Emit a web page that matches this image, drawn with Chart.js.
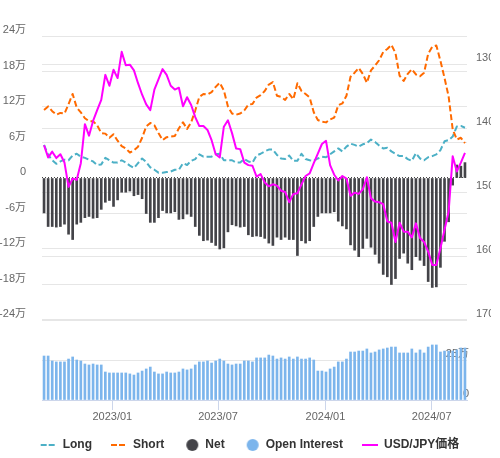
<!DOCTYPE html>
<html>
<head>
<meta charset="utf-8">
<script src="https://cdn.jsdelivr.net/npm/chart.js@4.4.1/dist/chart.umd.min.js"></script>
<style>
  html, body { margin: 0; padding: 0; background: #fff; overflow: hidden; }
  #wrap { position: relative; width: 500px; height: 458px; }
  #cot { display: block; }
</style>
</head>
<body>
<div id="wrap"><canvas id="cot"></canvas></div>
<script>
// ── Data: weekly report dates (Tuesday) ──
const weeks = [
    '2022-09-06','2022-09-13','2022-09-20','2022-09-27','2022-10-04','2022-10-11','2022-10-18','2022-10-25',
    '2022-11-01','2022-11-08','2022-11-15','2022-11-22','2022-11-29','2022-12-06','2022-12-13','2022-12-20','2022-12-27',
    '2023-01-03','2023-01-10','2023-01-17','2023-01-24','2023-01-31','2023-02-07','2023-02-14','2023-02-21','2023-02-28',
    '2023-03-07','2023-03-14','2023-03-21','2023-03-28','2023-04-04','2023-04-11','2023-04-18','2023-04-25',
    '2023-05-02','2023-05-09','2023-05-16','2023-05-23','2023-05-30','2023-06-06','2023-06-13','2023-06-20','2023-06-27',
    '2023-07-04','2023-07-11','2023-07-18','2023-07-25','2023-08-01','2023-08-08','2023-08-15','2023-08-22','2023-08-29',
    '2023-09-05','2023-09-12','2023-09-19','2023-09-26','2023-10-03','2023-10-10','2023-10-17','2023-10-24','2023-10-31',
    '2023-11-07','2023-11-14','2023-11-21','2023-11-28','2023-12-05','2023-12-12','2023-12-19','2023-12-26',
    '2024-01-02','2024-01-09','2024-01-16','2024-01-23','2024-01-30','2024-02-06','2024-02-13','2024-02-20','2024-02-27',
    '2024-03-05','2024-03-12','2024-03-19','2024-03-26','2024-04-02','2024-04-09','2024-04-16','2024-04-23','2024-04-30',
    '2024-05-07','2024-05-14','2024-05-21','2024-05-28','2024-06-04','2024-06-11','2024-06-18','2024-06-25',
    '2024-07-02','2024-07-09','2024-07-16','2024-07-23','2024-07-30','2024-08-06','2024-08-13','2024-08-20','2024-08-27'
];

// positions in 万枚
const longPos = [
    5.6,3.9,3.0,2.4,2.8,3.1,3.0,3.8,4.1,3.6, 3.4,3.1,2.8,2.2,2.3,3.4,3.0,2.6,2.6,3.0,
    2.6,2.1,1.7,2.5,3.3,2.7,1.8,1.4,0.9,0.9, 1.0,1.1,1.4,1.4,2.5,2.2,2.9,3.2,4.0,3.6,
    3.6,3.6,4.0,4.1,3.0,3.0,3.0,2.6,2.6,3.2, 2.8,2.6,3.8,4.1,4.5,4.8,4.8,3.9,3.3,3.2,
    3.8,2.9,2.9,4.1,3.2,3.0,2.9,3.3,3.6,3.5, 4.0,4.5,5.0,4.5,5.3,5.8,5.6,5.3,5.7,5.9,
    6.5,6.1,5.5,5.0,5.1,4.5,4.1,3.7,3.7,3.2, 2.9,4.2,3.3,3.0,3.5,3.7,4.0,4.7,6.2,6.4,
    7.0,8.7,8.8,8.5
];
const shortPos = [
    11.5,12.1,11.3,10.7,11.0,10.9,12.5,14.2,11.9,11.1, 10.1,9.6,9.6,8.9,7.6,7.5,6.8,7.4,6.3,5.4,
    5.0,4.3,4.7,5.3,6.8,8.7,9.3,8.9,7.6,6.4, 6.9,7.0,7.1,8.4,9.4,8.3,9.4,11.4,13.7,14.2,
    14.1,14.5,15.4,16.1,14.8,12.1,10.9,10.7,10.9,11.4, 12.4,12.5,13.6,14.0,14.7,15.8,16.2,13.9,13.7,13.2,
    14.2,13.3,16.0,14.7,14.2,13.6,11.1,9.8,9.5,9.4, 9.9,10.2,12.3,12.6,13.9,17.1,17.8,18.6,17.6,16.1,
    18.2,19.0,19.9,21.3,21.8,22.5,21.1,17.3,16.4,17.6, 18.4,17.5,17.2,17.8,21.0,22.2,22.4,19.8,16.9,13.8,
    8.2,6.5,6.8,5.9
];
const netPos = [
    -5.9,-8.2,-8.2,-8.3,-8.2,-7.8,-9.5,-10.4,-7.8,-7.5, -6.7,-6.5,-6.8,-6.7,-5.3,-4.1,-3.8,-4.8,-3.7,-2.4,
    -2.4,-2.2,-3.0,-2.8,-3.5,-6.0,-7.5,-7.5,-6.7,-5.5, -5.9,-5.9,-5.7,-7.0,-6.9,-6.1,-6.5,-8.2,-9.7,-10.6,
    -10.5,-10.9,-11.4,-12.0,-11.8,-9.1,-7.9,-8.1,-8.3,-8.2, -9.6,-9.9,-9.8,-9.9,-10.2,-11.0,-11.4,-10.0,-10.4,-10.0,
    -10.4,-10.4,-13.1,-10.6,-11.0,-10.6,-8.2,-6.5,-5.9,-5.9, -5.9,-5.7,-7.3,-8.1,-8.6,-11.3,-12.2,-13.3,-11.9,-10.2,
    -11.7,-12.9,-14.4,-16.3,-16.7,-18.0,-17.0,-13.6,-12.7,-14.4, -15.5,-13.3,-13.9,-14.8,-17.5,-18.5,-18.4,-15.1,-10.7,-7.4,
    -1.2,2.2,2.0,2.6
];
const openInterest = [
    27.5,27.5,24.4,23.8,23.8,23.8,25.6,26.9,25.0,24.4, 22.5,21.9,22.5,21.9,21.9,17.5,16.9,16.9,16.9,16.9,
    16.9,16.3,15.6,16.9,18.1,19.4,20.6,17.5,16.3,16.3, 17.5,16.9,16.9,17.5,19.4,18.8,19.4,21.9,23.8,23.8,
    24.4,23.1,24.4,25.6,24.4,22.5,21.9,22.5,22.5,24.4, 24.4,23.8,26.3,26.3,26.3,28.1,27.5,25.6,26.3,25.6,
    26.9,25.6,26.9,25.6,25.6,26.3,25.0,18.1,18.1,17.5, 19.4,20.6,23.8,23.8,25.6,30.0,30.0,30.6,30.6,31.9,
    29.4,30.0,31.3,31.9,32.5,33.1,33.1,29.4,29.4,29.4, 31.9,29.4,31.3,29.4,33.1,34.4,34.4,30.0,30.6,30.6,
    30.6,31.3,32.5,32.5
];
const usdjpy = [
    142.7,144.6,143.7,144.7,144.1,145.4,149.2,147.9,148.1,145.5, 139.4,141.2,138.9,137.2,135.6,131.7,133.4,130.9,132.2,128.1,
    130.2,130.1,131.0,133.0,134.8,136.3,137.2,134.0,132.4,130.8, 131.7,133.4,134.0,133.7,136.6,135.2,136.4,138.3,139.7,139.7,
    140.3,141.9,144.1,144.6,139.8,138.8,140.8,143.2,143.3,145.4, 145.8,145.9,147.6,147.2,148.5,149.1,148.8,149.0,149.8,150.0,
    151.6,150.3,150.2,148.8,147.5,147.1,145.5,144.0,142.5,142.0, 145.8,147.3,148.2,147.5,147.9,150.6,150.1,150.3,149.6,147.7,
    151.0,151.5,151.6,151.9,154.6,154.8,157.8,154.8,156.2,156.2, 157.1,154.9,157.2,157.8,159.3,161.4,161.4,158.8,155.9,153.1,
    144.4,146.8,145.4,143.9
];

// ── Axis ticks ──
const tickDates  = ['2023-01-01', '2023-07-01', '2024-01-01', '2024-07-01'];
const tickLabels = ['2023/01', '2023/07', '2024/01', '2024/07'];
const leftTicks  = [-24, -18, -12, -6, 0, 6, 12, 18, 24];
const rightTicks = [130, 140, 150, 160, 170];
const oiTicks    = [0, 25];

const COLORS = {
    long:  '#4cb0c6',
    short: '#ff6a00',
    net:   '#434348',
    oi:    '#7cb5ec',
    fx:    '#ff00ff',
};

// top panel is 284px of the 364px plot; bottom 80px holds open interest
const TOP_H = 284, FULL_H = 364;
const LEFT_MAX = 24, LEFT_MIN = 24 - 48 * FULL_H / TOP_H;
const FX_TOP = 130 - 10 * 28 / 64, FX_BOTTOM = 170 + 10 * 80 / 64;
const OI_MAX = 25 * FULL_H / 40;

const WEEK = 7 * 864e5;
const weekIndex = d => (Date.parse(d) - Date.parse(weeks[0])) / WEEK;

// ── Legend icons ──
function legendIcon(draw) {
    const c = document.createElement('canvas');
    c.width = 25; c.height = 12;
    draw(c.getContext('2d'));
    return c;
}
const lineIcon = (color, dash) => legendIcon(g => {
    g.strokeStyle = color; g.lineWidth = 2; g.setLineDash(dash);
    g.beginPath(); g.moveTo(9, 6); g.lineTo(25, 6); g.stroke();
});
const dotIcon = color => legendIcon(g => {
    g.fillStyle = color;
    g.beginPath(); g.arc(18, 6, 6, 0, Math.PI * 2); g.fill();
});
const icons = [
    lineIcon(COLORS.long, [6, 2]),
    lineIcon(COLORS.short, [6, 2]),
    dotIcon(COLORS.net),
    dotIcon(COLORS.oi),
    lineIcon(COLORS.fx, []),
];

Chart.defaults.font.family = "'Liberation Sans', Arial, 'Noto Sans CJK JP', sans-serif";
Chart.defaults.color = '#666';

const axisFont = { size: 11 };

new Chart(document.getElementById('cot'), {
    type: 'bar',
    data: {
        labels: weeks,
        datasets: [
            { type: 'line', label: 'Long', data: longPos, yAxisID: 'yL',
              borderColor: COLORS.long, borderWidth: 2, borderDash: [6, 3], borderJoinStyle: 'round',
              pointRadius: 0, tension: 0, order: 2 },
            { type: 'line', label: 'Short', data: shortPos, yAxisID: 'yL',
              borderColor: COLORS.short, borderWidth: 2, borderDash: [6, 3], borderJoinStyle: 'round',
              pointRadius: 0, tension: 0, order: 1 },
            { type: 'bar', label: 'Net', data: netPos, yAxisID: 'yL',
              backgroundColor: COLORS.net, barThickness: 2, grouped: false, order: 3 },
            { type: 'bar', label: 'Open Interest', data: openInterest, yAxisID: 'yOI',
              backgroundColor: COLORS.oi, barThickness: 2, grouped: false, order: 4 },
            { type: 'line', label: 'USD/JPY価格', data: usdjpy, yAxisID: 'yR',
              borderColor: COLORS.fx, borderWidth: 2, borderJoinStyle: 'round',
              pointRadius: 0, tension: 0, order: 0 },
        ]
    },
    options: {
        responsive: true,
        maintainAspectRatio: false,
        animation: false,
        layout: { padding: { top: 36, right: 9, bottom: -3, left: 0 } },
        plugins: {
            tooltip: { enabled: false },
            legend: {
                position: 'bottom',
                labels: {
                    usePointStyle: true,
                    pointStyleWidth: 25,
                    padding: 10,
                    color: '#333',
                    font: { size: 12, weight: 'bold' },
                    generateLabels: chart => chart.data.datasets.map((ds, i) => ({
                        text: ds.label,
                        pointStyle: icons[i],
                        fontColor: '#333',
                        fillStyle: 'transparent',
                        strokeStyle: 'transparent',
                        lineWidth: 0,
                        hidden: !chart.isDatasetVisible(i),
                        datasetIndex: i,
                    })),
                },
            },
        },
        scales: {
            x: {
                type: 'category',
                offset: true,
                grid: { drawOnChartArea: false, drawTicks: true, tickLength: 10, color: '#ccd6eb', offset: false },
                border: { color: '#ccd6eb' },
                ticks: {
                    autoSkip: false, maxRotation: 0, padding: 0, font: axisFont,
                    callback: (v, i) => tickLabels[i],
                },
                afterBuildTicks: s => { s.ticks = tickDates.map(d => ({ value: weekIndex(d) })); },
                afterFit: s => { s.height = 29; },
            },
            yL: {
                position: 'left',
                min: LEFT_MIN, max: LEFT_MAX,
                afterBuildTicks: s => { s.ticks = leftTicks.map(v => ({ value: v })); },
                grid: {
                    drawTicks: false,
                    color: ctx => (ctx.tick && ctx.tick.value === 0) ? '#444' : '#e6e6e6',
                },
                border: {
                    display: false,
                    dash: ctx => (ctx.tick && ctx.tick.value === 0) ? [1, 2] : [],
                },
                ticks: { padding: 16, labelOffset: -6, font: axisFont, callback: v => v === 0 ? '0' : v + '万' },
                afterFit: s => { s.width = 42; },
            },
            yOI: {
                position: 'right',
                weight: 0,
                min: 0, max: OI_MAX,
                afterBuildTicks: s => { s.ticks = oiTicks.map(v => ({ value: v })); },
                grid: {
                    drawTicks: false,
                    color: ctx => (ctx.tick && ctx.tick.value === 25) ? '#e6e6e6' : 'rgba(0,0,0,0)',
                },
                border: { display: false },
                ticks: { mirror: true, padding: 2, labelOffset: -6, font: axisFont, callback: v => v === 0 ? '0' : v + '万' },
                afterFit: s => { s.width = 0; },
            },
            yR: {
                position: 'right',
                weight: 1,
                reverse: true,
                min: FX_TOP, max: FX_BOTTOM,
                afterBuildTicks: s => { s.ticks = rightTicks.map(v => ({ value: v })); },
                grid: { drawTicks: false, color: '#e6e6e6' },
                border: { display: false },
                ticks: { padding: 9, labelOffset: -6, font: axisFont, callback: v => String(v) },
                afterFit: s => { s.width = 24; },
            },
        },
    },
});
</script>
</body>
</html>
